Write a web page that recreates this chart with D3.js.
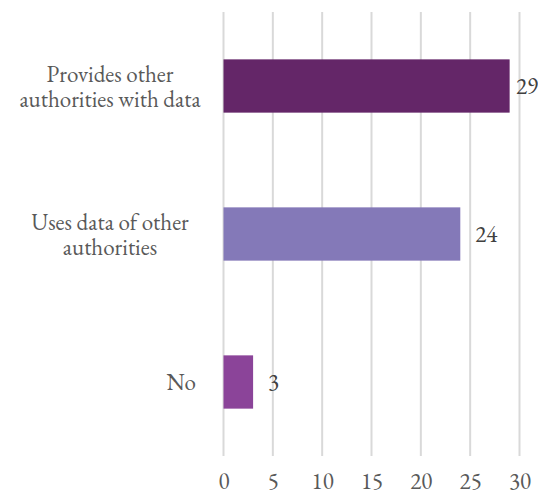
<!DOCTYPE html>
<html><head><meta charset="utf-8">
<script src="https://cdn.jsdelivr.net/npm/d3@7/dist/d3.min.js"></script>
<style>body{margin:0;background:#fff}svg{display:block}</style>
</head><body>
<script>
const categories = ["Provides other authorities with data", "Uses data of other authorities", "No"];
const categoryLines = [["Provides other", "authorities with data"], ["Uses data of other", "authorities"], ["No"]];
const values = [29, 24, 3];
const colors = ["#642668", "#8479B8", "#8B4499"];
const tickValues = [0, 5, 10, 15, 20, 25, 30];

const W = 538, H = 496;
const fs = 23;
const ff = '"EB Garamond", "Liberation Serif", serif';
const svg = d3.select("body").append("svg").attr("width", W).attr("height", H);

const x = d3.scaleLinear().domain([0, 30]).range([223.5, 519.5]);
const y = d3.scaleBand().domain(categories).range([12, 456]).paddingInner(0.64).paddingOuter(0.32);

// gridlines
svg.append("g").selectAll("line").data(tickValues).join("line")
  .attr("x1", d => x(d)).attr("x2", d => x(d))
  .attr("y1", 12).attr("y2", 456)
  .attr("stroke", "#d9d9d9").attr("stroke-width", 2);

// bars
svg.append("g").selectAll("rect").data(values).join("rect")
  .attr("x", x(0)).attr("y", (d, i) => y(categories[i]))
  .attr("width", d => x(d) - x(0)).attr("height", y.bandwidth())
  .attr("fill", (d, i) => colors[i]);

// value labels
svg.append("g").selectAll("text").data(values).join("text")
  .attr("y", (d, i) => y(categories[i]) + y.bandwidth() / 2)
  .attr("dy", "0.35em")
  .style("font-family", ff).style("font-size", fs + "px").attr("fill", "#404040")
  .text(d => d)
  .each(function(d) {
    const w = this.getComputedTextLength();
    d3.select(this).attr("x", Math.min(x(d) + 15, W - w));
  });

// x axis tick labels
const xAxis = d3.axisBottom(x).tickValues(tickValues).tickSize(0).tickPadding(0);
const gx = svg.append("g").call(xAxis);
gx.select(".domain").remove();
gx.selectAll("text").attr("y", 489).attr("dy", null)
  .style("font-family", ff).style("font-size", fs + "px").attr("fill", "#595959");

// category labels
const lh = 25;
categoryLines.forEach((lines, i) => {
  const cy = y(categories[i]) + y.bandwidth() / 2;
  const multi = lines.length > 1;
  lines.forEach((ln, j) => {
    svg.append("text")
      .style("font-family", ff).style("font-size", fs + "px").attr("fill", "#595959")
      .attr("text-anchor", multi ? "middle" : "end")
      .attr("x", multi ? 110 : 196)
      .attr("y", cy + (j - (lines.length - 1) / 2) * lh)
      .attr("dy", "0.35em")
      .text(ln);
  });
});
</script>
</body></html>
